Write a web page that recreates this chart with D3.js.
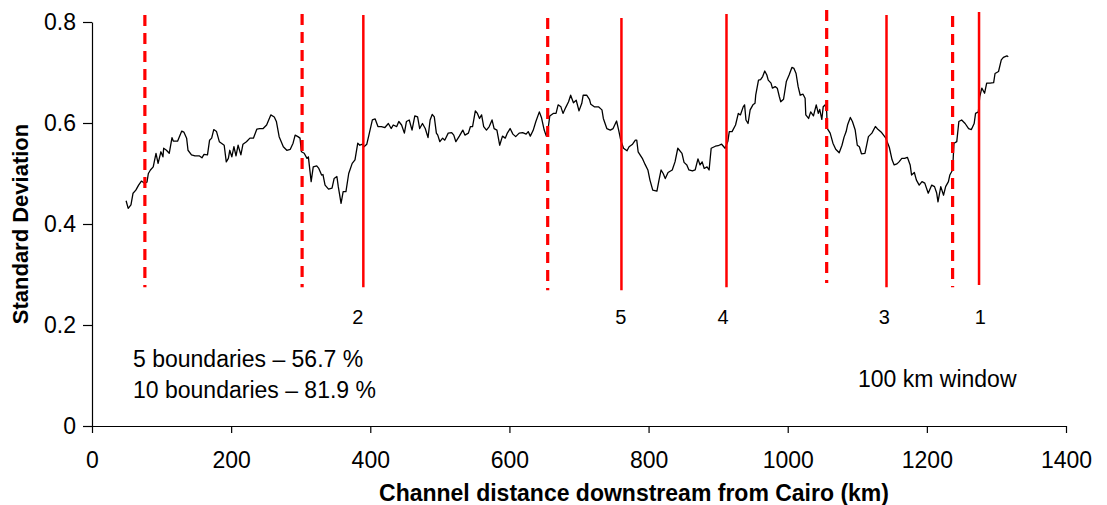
<!DOCTYPE html>
<html>
<head>
<meta charset="utf-8">
<script src="https://cdn.jsdelivr.net/npm/d3@7"></script>
<style>
  html, body { margin: 0; padding: 0; background: #fff; }
  svg { display: block; font-family: "Liberation Sans", Arial, sans-serif; }
</style>
</head>
<body>
<div id="chart"></div>
<script>
// 数据：沿河距离 (km) 与标准差
const distanceKm = [49,52,56,59,63,67,71,75,79,81,84,88,92,95,99,102,103,107,111,115,117,123,129,132,136,138,143,148,154,158,161,166,169,172,175,179,183,186,190,193,196,198,201,204,207,210,214,217,222,227,232,237,241,246,251,257,262,265,269,
  275,280,285,289,292,296,299,301,305,309,311,315,318,323,326,330,332,335,340,345,348,352,354,358,361,365,369,374,378,382,385,389,391,395,398,403,407,411,416,421,426,430,433,438,441,445,449,452,456,460,464,468,471,475,479,483,486,489,492,
  495,497,500,504,507,512,517,520,523,528,533,536,541,544,547,551,554,557,560,563,567,571,575,578,582,586,590,594,597,601,605,609,614,619,624,627,630,634,638,643,646,650,653,656,658,663,667,670,674,677,681,685,688,692,696,700,704,706,711,715,
  717,722,728,733,735,740,745,749,754,757,760,764,769,772,777,781,783,785,791,795,799,802,806,812,815,818,821,824,828,834,838,842,848,851,855,858,863,867,871,874,877,880,884,887,890,896,900,905,910,914,916,920,925,929,932,936,938,
  940,943,946,950,953,954,958,961,964,967,970,972,976,978,982,985,988,990,994,998,1002,1006,1009,1012,1015,1018,1022,1025,1026,1030,1033,1037,1041,1044,1046,1049,1051,1054,1056,1057,1061,1065,1069,1074,1078,1081,1084,1086,1090,1093,1097,1100,1103,1106,1111,1116,1121,1126,1130,1135,1141,1146,1150,1153,1157,1160,
  1164,1168,1172,1176,1178,1182,1185,1189,1193,1197,1202,1207,1211,1214,1216,1220,1224,1227,1231,1233,1237,1239,1243,1246,1250,1255,1260,1264,1268,1270,1274,1276,1279,1283,1286,1291,1296,1298,1303,1307,1310,1315,1317];
const stdDev = [0.446,0.431,0.438,0.461,0.467,0.477,0.485,0.481,0.483,0.500,0.507,0.513,0.540,0.520,0.543,0.533,0.550,0.546,0.540,0.571,0.564,0.564,0.584,0.582,0.570,0.546,0.537,0.535,0.535,0.531,0.538,0.537,0.566,0.570,0.587,0.583,0.563,0.560,0.556,0.523,0.530,0.546,0.533,0.553,0.535,0.556,0.537,0.558,0.563,0.570,0.570,0.588,0.589,0.589,0.596,0.616,0.612,0.603,0.573,
  0.553,0.546,0.548,0.560,0.576,0.573,0.570,0.543,0.540,0.530,0.533,0.484,0.513,0.515,0.510,0.497,0.498,0.477,0.469,0.471,0.490,0.494,0.474,0.441,0.464,0.464,0.500,0.520,0.527,0.560,0.556,0.558,0.553,0.558,0.576,0.606,0.608,0.593,0.593,0.591,0.599,0.589,0.596,0.593,0.603,0.596,0.580,0.603,0.606,0.586,0.614,0.612,0.589,0.599,0.589,0.571,0.606,0.617,0.612,
  0.580,0.576,0.563,0.570,0.566,0.580,0.581,0.576,0.563,0.574,0.586,0.576,0.580,0.593,0.593,0.624,0.619,0.609,0.616,0.593,0.586,0.593,0.606,0.589,0.586,0.556,0.574,0.570,0.580,0.589,0.578,0.573,0.580,0.581,0.578,0.583,0.574,0.585,0.603,0.622,0.611,0.586,0.574,0.593,0.614,0.619,0.619,0.636,0.632,0.619,0.631,0.642,0.655,0.640,0.645,0.624,0.639,0.655,0.655,0.647,
  0.637,0.632,0.632,0.626,0.609,0.589,0.586,0.589,0.604,0.586,0.566,0.550,0.545,0.553,0.558,0.566,0.566,0.543,0.530,0.518,0.507,0.487,0.467,0.465,0.487,0.507,0.500,0.490,0.502,0.507,0.523,0.550,0.540,0.522,0.517,0.507,0.505,0.507,0.529,0.517,0.523,0.510,0.513,0.507,0.550,0.554,0.555,0.558,0.550,0.564,0.583,0.583,0.596,0.619,0.616,0.632,0.636,
  0.606,0.599,0.626,0.636,0.639,0.655,0.685,0.686,0.692,0.703,0.695,0.685,0.679,0.669,0.672,0.669,0.652,0.642,0.647,0.682,0.695,0.710,0.708,0.698,0.672,0.655,0.657,0.649,0.616,0.609,0.622,0.614,0.636,0.619,0.627,0.607,0.632,0.636,0.622,0.589,0.580,0.560,0.548,0.541,0.556,0.572,0.583,0.596,0.611,0.603,0.586,0.556,0.553,0.539,0.540,0.573,0.580,0.593,0.587,0.581,0.570,0.552,0.527,0.517,0.519,0.523,
  0.530,0.530,0.532,0.517,0.497,0.502,0.487,0.477,0.484,0.481,0.461,0.477,0.474,0.462,0.444,0.474,0.457,0.474,0.484,0.497,0.507,0.560,0.563,0.603,0.606,0.599,0.589,0.587,0.599,0.619,0.622,0.652,0.669,0.659,0.679,0.679,0.680,0.698,0.702,0.725,0.730,0.733,0.731];

// 分界线：位置 (km)、线型、上下端
const boundaryKm = [76, 302, 655, 1056, 1237, 390, 761, 912, 1142, 1275];
const boundaryDashed = [true, true, true, true, true, false, false, false, false, false];
const boundaryTop = [0.814, 0.816, 0.808, 0.824, 0.812, 0.814, 0.808, 0.816, 0.814, 0.820];
const boundaryBottom = [0.275, 0.275, 0.269, 0.283, 0.275, 0.275, 0.269, 0.275, 0.275, 0.279];

// 实线下方的序号
const rankLabels = ["2", "5", "4", "3", "1"];
const rankKm = [382, 760, 907, 1139, 1277];

const xTicks = [0, 200, 400, 600, 800, 1000, 1200, 1400];
const yTicks = [0, 0.2, 0.4, 0.6, 0.8];

const width = 1107, height = 505;
const svg = d3.select("#chart").append("svg")
  .attr("width", width)
  .attr("height", height)
  .attr("viewBox", `0 0 ${width} ${height}`);

const x = d3.scaleLinear().domain([0, 1400]).range([92, 1066]);
const y = d3.scaleLinear().domain([0, 0.8]).range([426, 22]);

// 坐标轴
const xAxis = svg.append("g")
  .attr("transform", `translate(0,${y(0)})`)
  .call(d3.axisBottom(x).tickValues(xTicks).tickFormat(d3.format("d")).tickSizeInner(7).tickSizeOuter(0).tickPadding(19));
const yAxis = svg.append("g")
  .attr("transform", `translate(${x(0)},0)`)
  .call(d3.axisLeft(y).tickValues(yTicks).tickFormat(d => d === 0 ? "0" : d3.format(".1f")(d)).tickSizeInner(9).tickSizeOuter(0).tickPadding(7));

[xAxis, yAxis].forEach(g => {
  g.select(".domain").attr("stroke", "#000").attr("stroke-width", 1.2);
  g.selectAll(".tick line").attr("stroke", "#000").attr("stroke-width", 1.2);
  g.selectAll(".tick text").attr("fill", "#000").style("font-size", "23px")
    .style("font-family", "'Liberation Sans', Arial, sans-serif");
});

// 标准差曲线
const series = distanceKm.map((d, i) => ({ km: d, v: stdDev[i] }));
svg.append("path")
  .datum(series)
  .attr("fill", "none")
  .attr("stroke", "#000")
  .attr("stroke-width", 1.3)
  .attr("stroke-linejoin", "round")
  .attr("d", d3.line().x(d => x(d.km)).y(d => y(d.v)));

// 红色分界线
const bounds = boundaryKm.map((d, i) => ({ km: d, dashed: boundaryDashed[i], top: boundaryTop[i], bottom: boundaryBottom[i] }));
svg.selectAll("line.boundary")
  .data(bounds)
  .enter().append("line")
  .attr("class", "boundary")
  .attr("x1", d => x(d.km)).attr("x2", d => x(d.km))
  .attr("y1", d => y(d.top)).attr("y2", d => y(d.bottom))
  .attr("stroke", "#ff0000")
  .attr("stroke-width", d => d.dashed ? 3.2 : 2.5)
  .attr("stroke-dasharray", d => d.dashed ? "11,7" : null);

// 序号
svg.selectAll("text.rank")
  .data(rankLabels)
  .enter().append("text")
  .attr("class", "rank")
  .attr("x", (d, i) => x(rankKm[i]))
  .attr("y", y(0.202))
  .attr("text-anchor", "middle")
  .style("font-size", "20px")
  .text(d => d);

// 注释文字
svg.append("text").attr("x", 133).attr("y", 367).style("font-size", "23px").text("5 boundaries – 56.7 %");
svg.append("text").attr("x", 133).attr("y", 398).style("font-size", "23px").text("10 boundaries – 81.9 %");
svg.append("text").attr("x", 858).attr("y", 387).style("font-size", "23px").text("100 km window");

// 轴标题
svg.append("text")
  .attr("x", 634)
  .attr("y", 501)
  .attr("text-anchor", "middle")
  .style("font-size", "23px")
  .style("font-weight", "bold")
  .text("Channel distance downstream from Cairo (km)");
svg.append("text")
  .attr("transform", `translate(28,${(y(0) + y(0.8)) / 2}) rotate(-90)`)
  .attr("text-anchor", "middle")
  .style("font-size", "22px")
  .style("font-weight", "bold")
  .text("Standard Deviation");
</script>
</body>
</html>
